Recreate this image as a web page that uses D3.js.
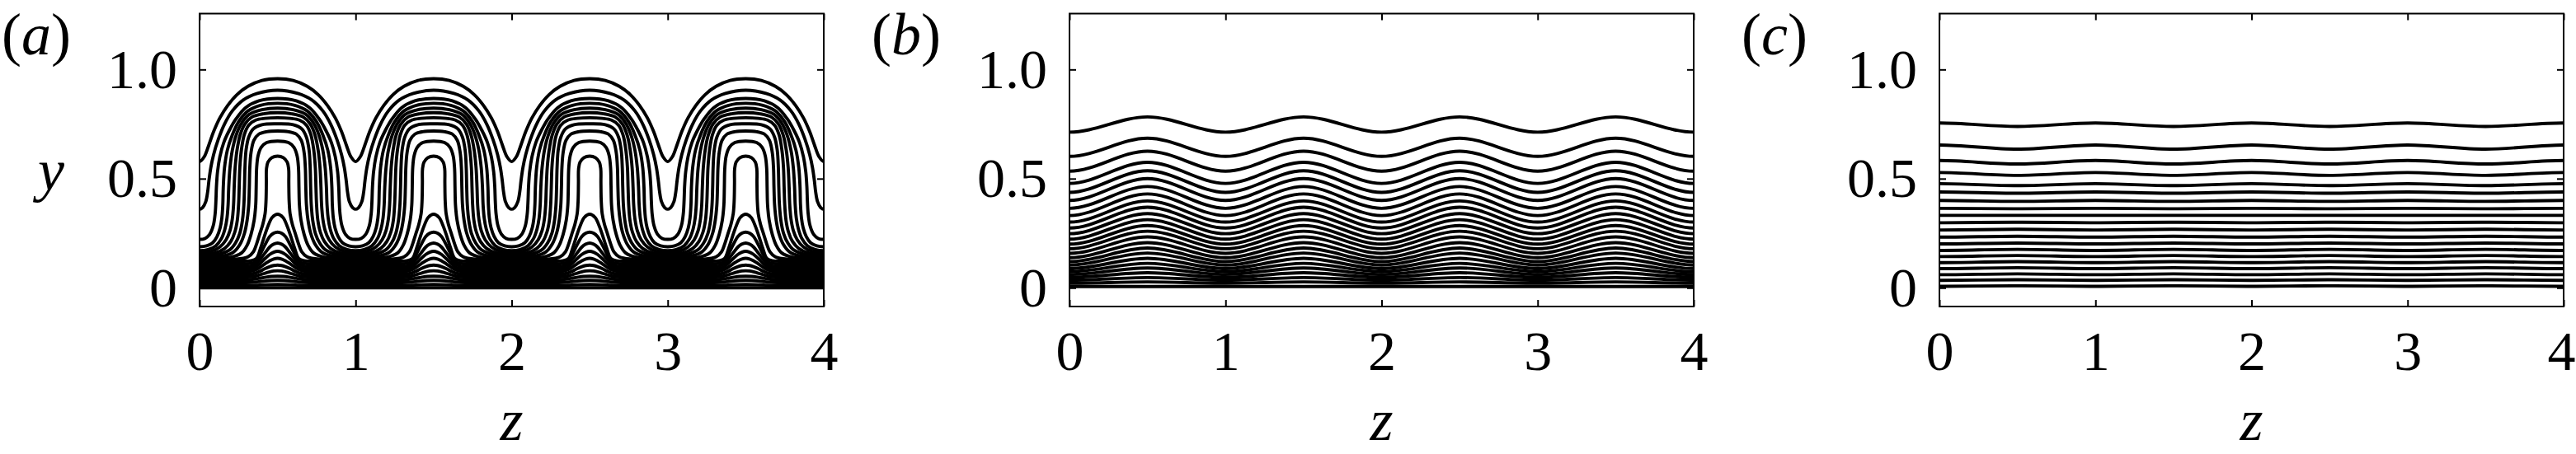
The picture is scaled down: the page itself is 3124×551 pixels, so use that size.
<!DOCTYPE html>
<html><head><meta charset="utf-8">
<script src="https://cdn.jsdelivr.net/npm/d3@7"></script>
<style>html,body{margin:0;padding:0;background:#fff}</style>
</head><body>
<script>
// ---------- axis ticks / labels ----------
const zTicks = [0, 1, 2, 3, 4];
const zTickLabels = ["0", "1", "2", "3", "4"];
const yTicks = [0, 0.5, 1.0];
const yTickLabels = ["0", "0.5", "1.0"];
const panelLetters = ["a", "b", "c"];
const zDomain = [0, 4];
const yDomain = [-0.0857, 1.256];

// ---------- panel (a): contour lines over one half period ----------
// points [s, y], s from 0 (between streaks) to 0.5 (centre of the low-speed streak);
// the pattern is mirrored about s = 0.5 and repeated with period 1 in z.
const aArchLines = [
  [[0,0.578],[0.03,0.600],[0.06,0.655],[0.09,0.715],[0.13,0.778],[0.18,0.835],[0.24,0.885],[0.31,0.923],[0.40,0.950],[0.5,0.958]],
  [[0,0.360],[0.02,0.368],[0.04,0.395],[0.052,0.44],[0.06,0.49],[0.072,0.55],[0.09,0.61],[0.12,0.68],[0.16,0.75],[0.21,0.81],[0.28,0.86],[0.37,0.89],[0.5,0.905]],
  [[0,0.222],[0.035,0.226],[0.065,0.245],[0.088,0.285],[0.1,0.34],[0.105,0.40],[0.108,0.46],[0.115,0.53],[0.13,0.60],[0.155,0.665],[0.19,0.72],[0.235,0.775],[0.295,0.825],[0.38,0.856],[0.5,0.867]],
  [[0,0.188],[0.045,0.192],[0.085,0.207],[0.112,0.235],[0.132,0.275],[0.143,0.32],[0.149,0.38],[0.152,0.46],[0.16,0.55],[0.178,0.63],[0.21,0.70],[0.25,0.76],[0.31,0.81],[0.39,0.836],[0.5,0.845]],
  [[0,0.170],[0.055,0.175],[0.105,0.193],[0.14,0.225],[0.163,0.27],[0.176,0.32],[0.183,0.38],[0.187,0.46],[0.195,0.55],[0.21,0.63],[0.235,0.70],[0.27,0.755],[0.32,0.795],[0.40,0.816],[0.5,0.823]],
  [[0,0.160],[0.07,0.166],[0.13,0.187],[0.17,0.22],[0.195,0.262],[0.21,0.315],[0.218,0.38],[0.222,0.46],[0.228,0.55],[0.24,0.63],[0.26,0.70],[0.29,0.75],[0.335,0.782],[0.41,0.797],[0.5,0.802]],
  [[0,0.153],[0.1,0.16],[0.16,0.18],[0.2,0.212],[0.226,0.255],[0.242,0.31],[0.25,0.38],[0.254,0.46],[0.258,0.55],[0.268,0.63],[0.286,0.70],[0.315,0.745],[0.36,0.768],[0.42,0.776],[0.5,0.779]],
  [[0,0.147],[0.12,0.153],[0.19,0.172],[0.23,0.205],[0.258,0.25],[0.275,0.31],[0.284,0.38],[0.288,0.46],[0.291,0.55],[0.298,0.63],[0.315,0.69],[0.345,0.728],[0.40,0.747],[0.5,0.751]],
  [[0,0.141],[0.15,0.146],[0.22,0.165],[0.26,0.2],[0.288,0.25],[0.305,0.31],[0.315,0.38],[0.319,0.46],[0.322,0.55],[0.33,0.62],[0.348,0.675],[0.38,0.704],[0.43,0.715],[0.5,0.718]],
  [[0,0.135],[0.2,0.14],[0.27,0.16],[0.305,0.195],[0.33,0.245],[0.35,0.31],[0.36,0.38],[0.363,0.46],[0.366,0.55],[0.375,0.605],[0.395,0.643],[0.43,0.665],[0.5,0.672]],
  [[0,0.129],[0.22,0.131],[0.31,0.142],[0.345,0.165],[0.365,0.2],[0.385,0.245],[0.405,0.29],[0.42,0.34],[0.426,0.40],[0.428,0.48],[0.429,0.545],[0.438,0.575],[0.463,0.596],[0.5,0.603]]
];
const aStemLines = [
  [[0,0.122],[0.25,0.122],[0.33,0.124],[0.365,0.135],[0.39,0.18],[0.415,0.235],[0.44,0.285],[0.465,0.322],[0.5,0.337]],
  [[0,0.110],[0.25,0.110],[0.33,0.112],[0.36,0.12],[0.39,0.155],[0.42,0.198],[0.45,0.235],[0.475,0.25],[0.5,0.255]],
  [[0,0.098],[0.25,0.098],[0.33,0.1],[0.36,0.108],[0.39,0.132],[0.42,0.16],[0.45,0.187],[0.475,0.2],[0.5,0.205]],
  [[0,0.086],[0.25,0.086],[0.33,0.088],[0.36,0.095],[0.39,0.113],[0.42,0.134],[0.45,0.153],[0.475,0.163],[0.5,0.167]],
  [[0,0.074],[0.25,0.074],[0.33,0.076],[0.36,0.082],[0.39,0.095],[0.42,0.11],[0.45,0.124],[0.475,0.132],[0.5,0.135]],
  [[0,0.062],[0.25,0.062],[0.33,0.064],[0.36,0.068],[0.39,0.077],[0.42,0.088],[0.45,0.097],[0.475,0.102],[0.5,0.104]],
  [[0,0.050],[0.25,0.050],[0.33,0.051],[0.36,0.054],[0.39,0.060],[0.42,0.067],[0.45,0.073],[0.475,0.077],[0.5,0.078]],
  [[0,0.037],[0.3,0.037],[0.34,0.039],[0.38,0.043],[0.42,0.048],[0.46,0.052],[0.5,0.053]],
  [[0,0.024],[0.3,0.024],[0.34,0.025],[0.38,0.028],[0.42,0.031],[0.46,0.033],[0.5,0.034]],
  [[0,0.011],[0.3,0.011],[0.36,0.012],[0.42,0.014],[0.5,0.015]],
  [[0,0.000],[0.5,0.000]]
];

// ---------- panel (b): y of each contour at the crests (z = 0.5, 1.5, ...) and troughs (z = 0, 1, ...) ----------
const bCrest  = [0.783,0.685,0.626,0.575,0.536,0.500,0.464,0.430,0.398,0.369,0.340,0.312,0.285,0.259,0.233,0.207,0.182,0.159,0.135,0.112,0.091,0.069,0.047,0.027,0.006];
const bTrough = [0.713,0.602,0.534,0.478,0.437,0.400,0.364,0.331,0.301,0.274,0.248,0.223,0.200,0.179,0.158,0.138,0.120,0.104,0.088,0.074,0.061,0.048,0.035,0.021,0.006];

// ---------- panel (c): y of each contour at z = 0, 1, ... and at z = 0.5, 1.5, ... ----------
const cAtInteger = [0.755,0.654,0.583,0.528,0.477,0.439,0.400,0.364,0.332,0.298,0.265,0.232,0.201,0.171,0.143,0.115,0.088,0.060,0.034,0.007];
const cAtHalf    = [0.739,0.635,0.567,0.515,0.468,0.433,0.396,0.362,0.332,0.300,0.268,0.236,0.205,0.176,0.148,0.120,0.092,0.064,0.037,0.009];

// ---------- layout ----------
const W = 3124, H = 551;
const panelLeft = [242, 1297, 2352], panelWidth = 757;
const frameTop = 16.5, frameBottom = 372;
const serif = "'Liberation Serif','Times New Roman',serif";
const tickFont = 68, nameFont = 72;
const lineW = 3.9;

const svg = d3.select("body").append("svg")
  .attr("width", W).attr("height", H).style("display", "block");
svg.append("rect").attr("width", W).attr("height", H).attr("fill", "#fff");

// repeat a half-period line (mirror about 0.5, period 1) over z in [-1, 5]
function tileHalf(half) {
  const period = half.concat(half.slice(0, -1).reverse().map(d => [1 - d[0], d[1]]));
  const pts = [];
  for (let p = -1; p <= 4; p++) {
    period.forEach((d, j) => { if (j < period.length - 1) pts.push([p + d[0], d[1]]); });
  }
  pts.push([5, half[0][1]]);
  return pts;
}
// wave through given values at integer and half-integer z
function wavePts(atInt, atHalf) {
  const pts = [];
  for (let k = -1; k <= 4; k++) { pts.push([k, atInt]); pts.push([k + 0.5, atHalf]); }
  pts.push([5, atInt]);
  return pts;
}

const panels = [
  { lines: aArchLines.concat(aStemLines).map(tileHalf), curve: d3.curveCatmullRom.alpha(0.5) },
  { lines: bCrest.map((c, i) => wavePts(bTrough[i], c)), curve: d3.curveMonotoneX },
  { lines: cAtInteger.map((v, i) => wavePts(v, cAtHalf[i])), curve: d3.curveMonotoneX }
];

panels.forEach((pn, i) => {
  const x0 = panelLeft[i], x1 = x0 + panelWidth;
  const x = d3.scaleLinear().domain(zDomain).range([x0, x1]);
  const y = d3.scaleLinear().domain(yDomain).range([frameBottom, frameTop]);
  const g = svg.append("g");

  const clipId = "clip" + i;
  svg.append("clipPath").attr("id", clipId).append("rect")
    .attr("x", x0).attr("y", frameTop).attr("width", x1 - x0).attr("height", frameBottom - frameTop);

  const line = d3.line().x(d => x(d[0])).y(d => y(d[1])).curve(pn.curve);
  g.append("g").attr("clip-path", `url(#${clipId})`)
    .selectAll("path").data(pn.lines).join("path")
    .attr("d", line).attr("fill", "none").attr("stroke", "#000")
    .attr("stroke-width", lineW).attr("stroke-linejoin", "round");

  // axes: inward ticks on all four sides
  const fmtZ = d => zTickLabels[zTicks.indexOf(d)];
  const fmtY = d => yTickLabels[yTicks.indexOf(d)];
  const styleAxis = sel => {
    sel.select(".domain").remove();
    sel.selectAll(".tick line").attr("stroke", "#000").attr("stroke-width", 2);
    sel.selectAll(".tick text").attr("font-family", serif).attr("font-size", tickFont).attr("fill", "#000");
  };
  const bottomAxis = g.append("g").attr("transform", `translate(0,${frameBottom})`)
    .call(d3.axisBottom(x).tickValues(zTicks).tickFormat(fmtZ).tickSizeInner(-8).tickSizeOuter(0).tickPadding(29))
    .call(styleAxis);
  if (i === 2) {
    bottomAxis.selectAll(".tick text").filter(d => d === 4)
      .attr("text-anchor", "end").attr("x", W - 1 - x1);
  }
  g.append("g").attr("transform", `translate(0,${frameTop})`)
    .call(d3.axisTop(x).tickValues(zTicks).tickFormat("").tickSizeInner(-8).tickSizeOuter(0))
    .call(styleAxis);
  g.append("g").attr("transform", `translate(${x0},0)`)
    .call(d3.axisLeft(y).tickValues(yTicks).tickFormat(fmtY).tickSizeInner(-8).tickSizeOuter(0).tickPadding(27))
    .call(styleAxis);
  g.append("g").attr("transform", `translate(${x1},0)`)
    .call(d3.axisRight(y).tickValues(yTicks).tickFormat("").tickSizeInner(-8).tickSizeOuter(0))
    .call(styleAxis);

  // frame
  g.append("rect").attr("x", x0).attr("y", frameTop).attr("width", x1 - x0).attr("height", frameBottom - frameTop)
    .attr("fill", "none").attr("stroke", "#000").attr("stroke-width", 2);

  // panel letter
  const t = g.append("text").attr("x", x0 - 240).attr("y", 66)
    .attr("font-family", serif).attr("font-size", 72).attr("fill", "#000");
  t.append("tspan").text("(");
  t.append("tspan").attr("font-style", "italic").text(panelLetters[i]);
  t.append("tspan").text(")");

  // z label
  g.append("text").attr("x", (x0 + x1) / 2).attr("y", 534).attr("text-anchor", "middle")
    .attr("font-family", serif).attr("font-style", "italic").attr("font-size", nameFont).attr("fill", "#000")
    .text("z");

  if (i === 0) {
    g.append("text").attr("x", 62).attr("y", 231).attr("text-anchor", "middle")
      .attr("font-family", serif).attr("font-style", "italic").attr("font-size", nameFont).attr("fill", "#000")
      .text("y");
  }
});
</script>
</body></html>
